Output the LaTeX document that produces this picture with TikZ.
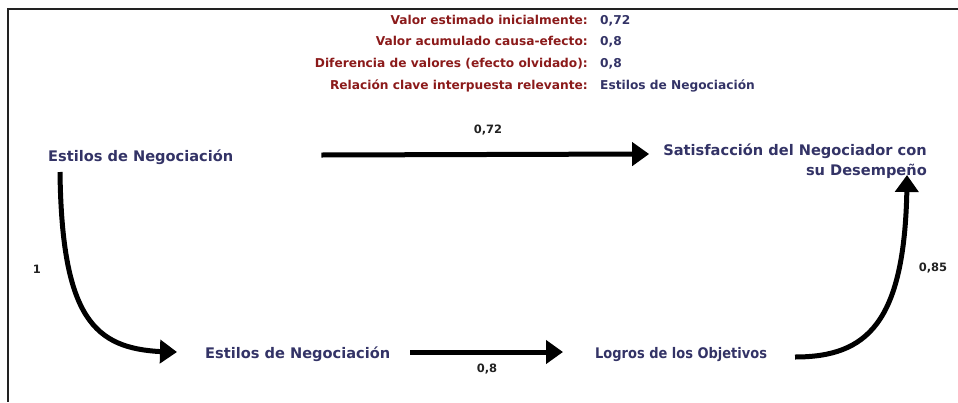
\documentclass[tikz,border=0pt]{standalone}
\usepackage{fontspec}
\setmainfont{DejaVu Sans}
\usetikzlibrary{arrows.meta,bending,calc}
\definecolor{navy}{RGB}{51,51,102}
\definecolor{dred}{RGB}{139,26,26}
\definecolor{numc}{RGB}{34,34,34}
\begin{document}
\begin{tikzpicture}[x=1pt,y=-1pt,
  concept/.style={inner sep=0pt, text=navy, font=\fontsize{14.6}{20}\selectfont\bfseries},
  hlabel/.style={inner sep=0pt, anchor=base east, text=dred, font=\fontsize{12.2}{14}\selectfont\bfseries},
  hvalue/.style={inner sep=0pt, anchor=base west, text=navy, font=\fontsize{12.2}{14}\selectfont\bfseries},
  weight/.style={inner sep=0pt, text=numc, font=\fontsize{11.5}{13}\selectfont\bfseries},
  arr/.style={line width=5pt, draw=black, -{Triangle[length=17pt,width=23pt]}},
  frameline/.style={line width=2.5pt, draw=numc}]
\useasboundingbox (0,0) rectangle (958,402);
\draw[frameline] (958,9) -- (8,9) -- (8,402);

% header
\node[hlabel] (l1) at (588,24) {Valor estimado inicialmente:};
\node[hvalue] (v1) at (600,24) {0,72};
\node[hlabel] (l2) at (588,45.5) {Valor acumulado causa-efecto:};
\node[hvalue] (v2) at (600,45.5) {0,8};
\node[hlabel] (l3) at (588,67) {Diferencia de valores (efecto olvidado):};
\node[hvalue] (v3) at (600,67) {0,8};
\node[hlabel] (l4) at (588,89) {Relación clave interpuesta relevante:};
\node[hvalue] (v4) at (600,89) {Estilos de Negociación};

% concepts
\node[concept, anchor=base west] (tl) at (48,161) {Estilos de Negociación};
\node[concept, anchor=base east, align=right] (sat) at (927,175) {Satisfacción del Negociador con\\su Desempeño};
\node[concept, anchor=base west] (bl) at (205,358) {Estilos de Negociación};
\node[concept, anchor=base west] (lo) at (595,358) {\scalebox{0.89}[1]{Logros de los Objetivos}};

% connectors
\draw[arr] ($(tl.base east)+(88,-6)$) -- ($(sat.base west)+(-14,-21)$);
\draw[arr] ($(bl.base east)+(20,-6)$) -- ($(lo.base west)+(-32,-6)$);
\draw[arr] ($(tl.base west)+(12,11)$) .. controls +(2,158) and +(-77,0) .. ($(bl.base west)+(-28,-6)$);
\draw[arr] ($(lo.base west)+(200,-1)$) .. controls +(75,0) and +(0,145) .. ($(sat.base east)+(-20,0)$);

% weights
\node[weight] (w1) at (488,130) {0,72};
\node[weight] (w2) at (487,369) {0,8};
\node[weight] (w3) at (37,269) {1};
\node[weight] (w4) at (933,268) {0,85};
\end{tikzpicture}
\end{document}
